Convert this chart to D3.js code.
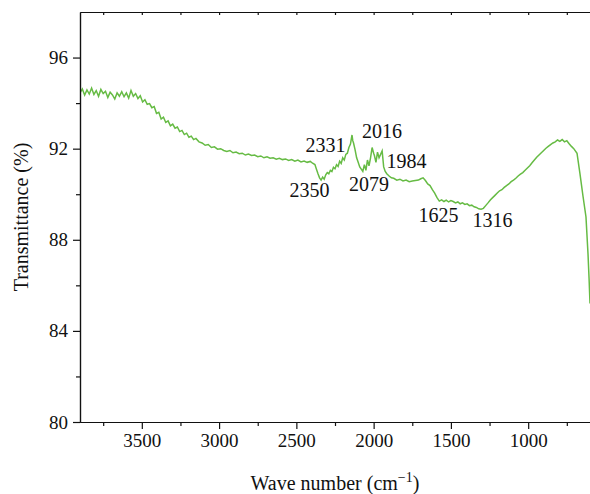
<!DOCTYPE html>
<html lang="en">
<head>
    <meta charset="UTF-8">
    <title>FTIR Spectrum</title>
    <script src="https://d3js.org/d3.v7.min.js"></script>
    <style>
        body { margin: 0; background: #fff; }
        svg { display: block; }
        .axis text { font-family: "Liberation Serif", "DejaVu Serif", serif; font-size: 19px; fill: #111; }
        .axis path, .axis line { stroke: #111; stroke-width: 1.2px; }
        .axis-label { font-family: "Liberation Serif", "DejaVu Serif", serif; font-size: 20px; fill: #111; }
        .peak-label { font-family: "Liberation Serif", "DejaVu Serif", serif; font-size: 20px; fill: #111; text-anchor: middle; }
        .line { fill: none; stroke: #66bb44; stroke-width: 1.5px; }
    </style>
</head>
<body>
<svg id="chart"></svg>
<script>
    // Spectrum (wave number in cm^-1, transmittance in %)
    const waveNumber = [
        3900, 3885, 3870, 3855, 3840, 3825, 3810, 3795, 3780, 3765, 3750, 3735, 3720, 3705, 3690,
        3675, 3660, 3645, 3630, 3615, 3600, 3585, 3570, 3555, 3540, 3525, 3510, 3495, 3480, 3465,
        3450, 3435, 3420, 3405, 3390, 3375, 3360, 3345, 3330, 3315, 3300, 3285, 3270, 3255, 3240,
        3225, 3210, 3195, 3180, 3165, 3150, 3130, 3110, 3090, 3070, 3050, 3030, 3010, 2990, 2970,
        2950, 2930, 2910, 2890, 2870, 2850, 2830, 2810, 2790, 2770, 2750, 2730, 2710, 2690, 2670,
        2650, 2630, 2610, 2590, 2570, 2550, 2530, 2510, 2490, 2470, 2450, 2430, 2410, 2395, 2380,
        2370, 2360, 2350, 2340, 2330, 2320, 2310, 2300, 2290, 2280, 2270, 2260, 2250, 2240, 2230,
        2220, 2210, 2200, 2190, 2180, 2170, 2160, 2150, 2140, 2135, 2130, 2120, 2110, 2100, 2090,
        2080, 2070, 2060, 2050, 2040, 2030, 2020, 2010, 2000, 1995, 1985, 1975, 1965, 1955, 1945,
        1935, 1925, 1915, 1900, 1885, 1870, 1850, 1830, 1810, 1790, 1770, 1750, 1730, 1710, 1695,
        1680, 1665, 1650, 1635, 1620, 1605, 1590, 1575, 1560, 1545, 1530, 1515, 1500, 1485, 1470,
        1455, 1440, 1425, 1410, 1395, 1380, 1365, 1350, 1335, 1320, 1305, 1290, 1275, 1260, 1245,
        1230, 1215, 1200, 1185, 1170, 1155, 1140, 1125, 1110, 1095, 1080, 1065, 1050, 1035, 1020,
        1005, 990, 975, 960, 945, 930, 915, 900, 885, 870, 855, 840, 825, 810, 795,
        780, 765, 750, 735, 720, 705, 684, 665, 645, 626, 613, 606, 600
    ];
    const transmittance = [
        94.45, 94.62, 94.35, 94.58, 94.40, 94.66, 94.38, 94.55, 94.30, 94.60, 94.42, 94.52, 94.25, 94.48, 94.36,
        94.18, 94.45, 94.30, 94.50, 94.28, 94.45, 94.22, 94.55, 94.30, 94.42, 94.20, 94.32, 94.05, 94.15, 93.95,
        93.98, 93.80, 93.85, 93.55, 93.60, 93.30, 93.38, 93.15, 93.22, 93.00, 93.08, 92.90, 92.95, 92.75, 92.80,
        92.62, 92.68, 92.50, 92.55, 92.40, 92.45, 92.30, 92.25, 92.15, 92.18, 92.05, 92.08, 91.98, 92.00, 91.92,
        91.88, 91.92, 91.82, 91.85, 91.78, 91.80, 91.72, 91.76, 91.70, 91.72, 91.65, 91.68, 91.60, 91.64, 91.58,
        91.60, 91.54, 91.58, 91.52, 91.55, 91.48, 91.52, 91.45, 91.50, 91.42, 91.46, 91.40, 91.44, 91.36, 91.30,
        91.10, 90.90, 90.72, 90.62, 90.75, 90.66, 90.85, 90.95, 90.90, 91.05, 91.00, 91.18, 91.12, 91.30, 91.22,
        91.45, 91.35, 91.60, 91.50, 91.75, 91.80, 92.05, 92.20, 92.60, 92.35, 92.25, 91.95, 91.60, 91.40, 91.20,
        91.10, 91.00, 91.30, 91.05, 91.50, 91.25, 91.60, 92.05, 91.80, 91.70, 91.40, 91.85, 91.60, 91.75, 91.90,
        91.20, 91.00, 90.90, 90.80, 90.72, 90.70, 90.62, 90.66, 90.58, 90.62, 90.55, 90.58, 90.60, 90.62, 90.68,
        90.72, 90.60, 90.45, 90.38, 90.20, 90.05, 89.85, 89.70, 89.75, 89.68, 89.74, 89.66, 89.72, 89.68, 89.62,
        89.66, 89.58, 89.62, 89.55, 89.58, 89.50, 89.52, 89.45, 89.42, 89.36, 89.34, 89.38, 89.50, 89.62, 89.75,
        89.85, 89.95, 90.05, 90.15, 90.20, 90.30, 90.38, 90.45, 90.55, 90.62, 90.70, 90.80, 90.88, 90.95, 91.05,
        91.15, 91.25, 91.38, 91.50, 91.62, 91.72, 91.82, 91.92, 92.02, 92.10, 92.18, 92.25, 92.30, 92.38, 92.32,
        92.40, 92.30, 92.35, 92.22, 92.10, 92.00, 91.80, 90.90, 89.90, 89.00, 87.40, 86.30, 85.20
    ];

    // Peak annotations: text, label anchor (wave number, transmittance)
    const peakLabels = ["2350", "2331", "2016", "2079", "1984", "1625", "1316"];
    const peakLabelX = [2415, 2311, 1946, 2030, 1787, 1580, 1231];
    const peakLabelY = [89.88, 91.85, 92.47, 90.14, 91.15, 88.78, 88.56];

    const xMajorTicks = [3500, 3000, 2500, 2000, 1500, 1000];
    const xMinorTicks = [3750, 3250, 2750, 2250, 1750, 1250, 750];
    const yMajorTicks = [80, 84, 88, 92, 96];
    const yMinorTicks = [82, 86, 90, 94];

    const svgWidth = 590;
    const svgHeight = 494;
    const margin = { top: 12, right: 0, bottom: 72, left: 80 };
    const width = svgWidth - margin.left - margin.right;
    const height = svgHeight - margin.top - margin.bottom;

    const svg = d3.select("#chart")
        .attr("width", svgWidth)
        .attr("height", svgHeight);

    const plot = svg.append("g")
        .attr("transform", "translate(" + margin.left + "," + margin.top + ")");

    const x = d3.scaleLinear().domain([3900, 600]).range([0, width]);
    const y = d3.scaleLinear().domain([80, 98]).range([height, 0]);

    const data = waveNumber.map((w, i) => ({ w: w, t: transmittance[i] }));

    // clip so the spectrum stays inside the frame
    svg.append("defs").append("clipPath").attr("id", "clip")
        .append("rect").attr("width", width).attr("height", height);

    const line = d3.line()
        .x(d => x(d.w))
        .y(d => y(d.t));

    plot.append("path")
        .datum(data)
        .attr("class", "line")
        .attr("clip-path", "url(#clip)")
        .attr("d", line);

    // bottom axis: majors with labels, minors without
    plot.append("g")
        .attr("class", "axis")
        .attr("transform", "translate(0," + height + ")")
        .call(d3.axisBottom(x).tickValues(xMajorTicks).tickSize(7).tickSizeOuter(0).tickPadding(5).tickFormat(d3.format("d")));
    plot.append("g")
        .attr("class", "axis")
        .attr("transform", "translate(0," + height + ")")
        .call(d3.axisBottom(x).tickValues(xMinorTicks).tickSize(4).tickSizeOuter(0).tickFormat(""));

    // top frame with small inward ticks
    plot.append("g")
        .attr("class", "axis")
        .call(d3.axisBottom(x).tickValues(xMajorTicks.concat(xMinorTicks)).tickSize(3).tickSizeOuter(0).tickFormat(""));

    // left axis
    plot.append("g")
        .attr("class", "axis")
        .call(d3.axisLeft(y).tickValues(yMajorTicks).tickSize(7).tickSizeOuter(0).tickPadding(5).tickFormat(d3.format("d")));
    plot.append("g")
        .attr("class", "axis")
        .call(d3.axisLeft(y).tickValues(yMinorTicks).tickSize(4).tickSizeOuter(0).tickFormat(""));

    // peak annotations
    plot.selectAll(".peak-label")
        .data(peakLabels)
        .enter().append("text")
        .attr("class", "peak-label")
        .attr("x", (d, i) => x(peakLabelX[i]))
        .attr("y", (d, i) => y(peakLabelY[i]))
        .text(d => d);

    // axis titles
    const xTitle = plot.append("text")
        .attr("class", "axis-label")
        .attr("x", width / 2)
        .attr("y", height + 68)
        .style("text-anchor", "middle");
    xTitle.append("tspan").text("Wave number (cm");
    xTitle.append("tspan").attr("dy", "-8").style("font-size", "14px").text("\u22121");
    xTitle.append("tspan").attr("dy", "8").text(")");

    plot.append("text")
        .attr("class", "axis-label")
        .attr("transform", "rotate(-90)")
        .attr("x", -height / 2)
        .attr("y", -margin.left + 28)
        .style("text-anchor", "middle")
        .text("Transmittance (%)");
</script>
</body>
</html>
